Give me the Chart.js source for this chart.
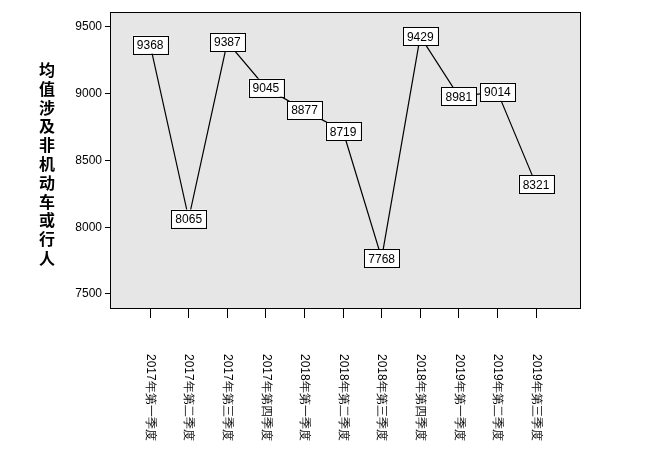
<!DOCTYPE html>
<html><head><meta charset="utf-8">
<script src="https://cdn.jsdelivr.net/npm/chart.js@4/dist/chart.umd.min.js"></script>
<style>body{margin:0;background:#fff}#w{width:660px;height:461px}</style>
</head><body><div id="w"><canvas id="c"></canvas></div>
<script>
const categories=["2017年第一季度","2017年第二季度","2017年第三季度","2017年第四季度","2018年第一季度","2018年第二季度","2018年第三季度","2018年第四季度","2019年第一季度","2019年第二季度","2019年第三季度"];
const values=[9368,8065,9387,9045,8877,8719,7768,9429,8981,9014,8321];
const yTicks=[7500,8000,8500,9000,9500];
const yTitle="均值涉及非机动车或行人";
const FONT='"Liberation Sans", Arial, sans-serif';
const deco={id:'deco',
beforeDraw(ch){const a=ch.chartArea,c=ch.ctx;c.save();c.fillStyle='#e6e6e6';c.fillRect(a.left,a.top,a.right-a.left,a.bottom-a.top);c.restore();},
afterDatasetsDraw(ch){const c=ch.ctx,a=ch.chartArea,x=ch.scales.x,y=ch.scales.y;c.save();
c.strokeStyle='#000';c.lineWidth=1;c.strokeRect(a.left+0.5,a.top+0.5,a.right-a.left,a.bottom-a.top);
c.font='12px '+FONT;c.textAlign='center';c.textBaseline='middle';
values.forEach((v,i)=>{const px=x.getPixelForValue(i),py=y.getPixelForValue(v);const t=String(v);const w=c.measureText(t).width+8,h=18;
c.fillStyle='#fff';c.fillRect(px-w/2,py-h/2,w,h);c.strokeRect(Math.round(px-w/2)+0.5,Math.round(py-h/2)+0.5,Math.round(w),h);c.fillStyle='#000';c.fillText(t,px,py+1);});
categories.forEach((t,i)=>{const px=x.getPixelForValue(i);c.save();c.translate(px,354);c.rotate(Math.PI/2);c.textAlign='left';c.fillText(t,0,0);c.restore();});
c.font='bold 16px "Noto Sans CJK SC", sans-serif';
[...yTitle].forEach((ch2,i)=>c.fillText(ch2,47,70+i*18.8));
c.restore();}};
new Chart(document.getElementById('c'),{type:'line',
data:{datasets:[{data:values.map((v,i)=>({x:i,y:v})),borderColor:'#000',borderWidth:1.2,pointRadius:0,tension:0}]},
options:{responsive:true,maintainAspectRatio:false,animation:false,events:[],
layout:{padding:{top:12,right:80,left:0,bottom:0}},
plugins:{legend:{display:false},tooltip:{enabled:false}},
scales:{
x:{type:'linear',min:-1.04,max:11.14,afterBuildTicks(s){s.ticks=categories.map((_,i)=>({value:i}));},
 afterFit(s){s.height=153;},ticks:{display:false},grid:{drawOnChartArea:false,tickLength:10,color:'#000'},border:{color:'#000'}},
y:{min:7395,max:9612,afterBuildTicks(s){s.ticks=yTicks.map(v=>({value:v}));},afterFit(s){s.width=110;},
 ticks:{color:'#000',font:{size:12,family:FONT},padding:3,callback:v=>String(v)},grid:{drawOnChartArea:false,tickLength:5,color:'#000'},border:{color:'#000'}}}},
plugins:[deco]});
</script></body></html>
